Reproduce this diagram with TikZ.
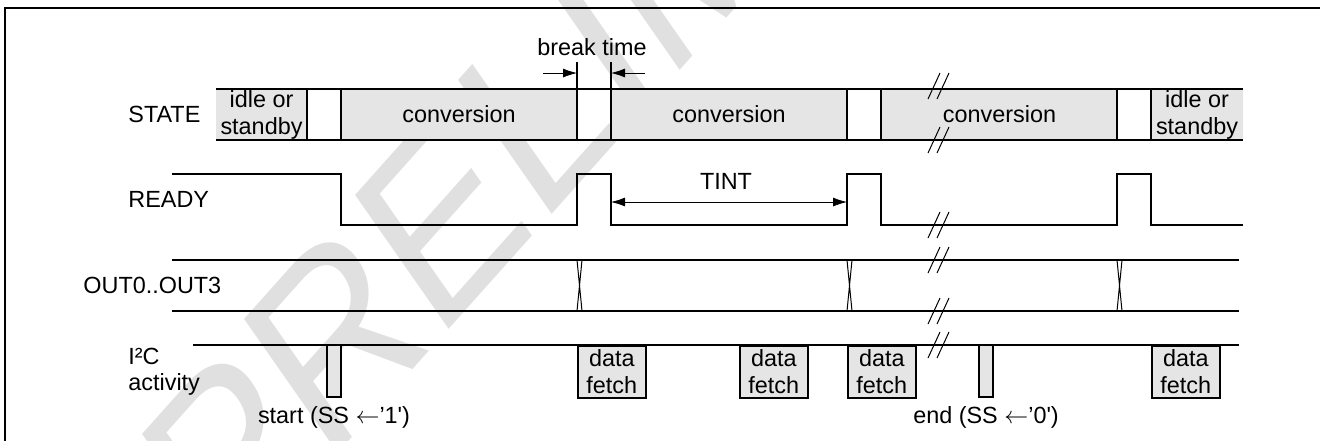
\documentclass[tikz,border=0pt]{standalone}
\usepackage{fontspec}
\setmainfont{Liberation Sans}[Ligatures=TeXOff]
\usetikzlibrary{arrows.meta}
\tikzset{
  wave/.style={line width=0.8pt},
  thinwave/.style={line width=0.5pt},
  lbl/.style={anchor=base west, inner sep=0pt},
  txt/.style={anchor=base, inner sep=0pt},
  segtxt/.style={inner sep=0pt, align=center},
  tip/.style={-{Latex[length=7pt,width=4.5pt]}},
  tips/.style={{Latex[length=7pt,width=4.5pt]}-{Latex[length=7pt,width=4.5pt]}},
  fetchbox/.style={draw, line width=0.8pt, fill=gray!20, anchor=north west, minimum width=34pt, minimum height=26pt, inner sep=0pt, align=center},
}
\newcommand{\brk}[2]{\draw[thinwave] (#1-10,#2+13) -- (#1+2,#2-13) (#1-1,#2+13) -- (#1+11,#2-13);}
\begin{document}
\begin{tikzpicture}[x=0.5pt, y=-0.5pt, font=\fontsize{11.7}{13.5}\selectfont]
        \useasboundingbox (0,0) rectangle (1320,440); \clip (0,0) rectangle (1320,440);
        \node[anchor=base west, inner sep=0pt, xscale=0.79, rotate=41.5, text=black!12, font=\fontsize{130}{130}\selectfont] (mark) at (223,583) {PRELIMINARY};
        \draw[line width=1.3pt] (5,445) |- (1325,8);

        \fill[gray!20] (216,89) rectangle (307,140) (341,89) rectangle (577,140) (611,89) rectangle (847,140) (881,89) rectangle (1117,140) (1151,89) rectangle (1243,140);
        \draw[wave] (216,89) -- (1243,89) (216,140) -- (1243,140);
        \foreach \x in {307,341,847,881,1117,1151} \draw[wave] (\x,89) -- (\x,140);
        \draw[wave] (577,62) -- (577,140) (611,62) -- (611,140);

        \node[lbl] (state) at (128,122) {STATE}; \node[segtxt] (idle1) at (261.5,114.5) {idle or\\standby};
        \node[txt] (conv1) at (459,122) {conversion}; \node[txt] (conv2) at (729,122) {conversion};
        \node[txt] (conv3) at (999.5,122) {conversion}; \node[segtxt] (idle2) at (1197,114.5) {idle or\\standby};

        \node[txt] (breaktime) at (592,55) {break time};
        \coordinate (b0) at (543,73); \coordinate (b1) at (577,73); \coordinate (b2) at (611,73); \coordinate (b3) at (645,73);
        \draw[tip] (b0) -- (b1); \draw[tip] (b3) -- (b2);

        \node[lbl] (ready) at (128,207) {READY};
        \draw[wave] (172,174) -| (341,225) -| (577,174) -| (611,225) -| (847,174) -| (881,225) -| (1117,174) -| (1151,225) -- (1243,225);
        \node[txt] (tint) at (726,189) {TINT};
        \coordinate (t1) at (611,202); \coordinate (t2) at (847,202); \draw[tips] (t1) -- (t2);

        \node[lbl] (out) at (83,293) {OUT0..OUT3};
        \draw[wave] (172,260) -- (1239,260) (172,311) -- (1239,311);
        \foreach \x in {577,847,1117} \draw[thinwave] (\x,260) -- (\x+5,311) (\x+5,260) -- (\x,311);

        \node[lbl] (i2c) at (128,364) {I²C}; \node[lbl] (activity) at (128,390) {activity};
        \draw[wave] (193,345) -- (1239,345);
        \draw[wave, fill=gray!20] (327,345) rectangle (341,397) (979,345) rectangle (993,397);
        \node[fetchbox] (fetch1) at (577,345) {data\\fetch}; \node[fetchbox] (fetch2) at (739,345) {data\\fetch};
        \node[fetchbox] (fetch3) at (847,345) {data\\fetch}; \node[fetchbox] (fetch4) at (1151,345) {data\\fetch};
        \node[txt] (start) at (334,423) {start (SS \(\leftarrow\)’1')}; \node[txt] (end) at (986,423) {end (SS \(\leftarrow\)’0')};

        \brk{938}{86} \brk{938}{140} \brk{938}{225} \brk{938}{260} \brk{938}{311} \brk{938}{345}
    \end{tikzpicture}
\end{document}
